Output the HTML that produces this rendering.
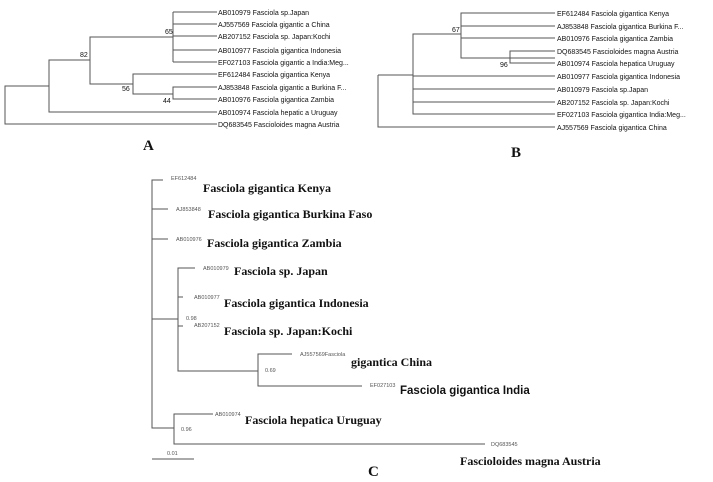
<!DOCTYPE html>
<html><head><style>
body{margin:0;background:#fff;}
svg{display:block}
.s{font-family:"Liberation Sans",sans-serif;font-size:7px;fill:#111}
.a{font-family:"Liberation Sans",sans-serif;font-size:5.5px;fill:#555}
.t{font-family:"Liberation Serif",serif;font-size:12px;font-weight:bold;fill:#111}
.L{font-family:"Liberation Serif",serif;font-size:15px;font-weight:bold;fill:#111}
line,polyline{stroke:#555;stroke-width:1;fill:none}
</style></head><body>
<svg width="713" height="482" xmlns="http://www.w3.org/2000/svg">
<!-- Panel A -->
<g>
<polyline points="173,12 173,62"/>
<line x1="173" y1="12" x2="217" y2="12"/><line x1="173" y1="24" x2="217" y2="24"/><line x1="173" y1="36" x2="217" y2="36"/><line x1="173" y1="50" x2="217" y2="50"/><line x1="173" y1="62" x2="217" y2="62"/>
<polyline points="173,37 90,37 90,84 133,84"/>
<polyline points="217,74 133,74 133,94 173,94"/>
<polyline points="217,87 173,87 173,99 217,99"/>
<polyline points="90,60 49,60 49,112 217,112"/>
<polyline points="49,86 5,86 5,124 217,124"/>
<text class="s" x="218" y="15">AB010979 Fasciola sp.Japan</text>
<text class="s" x="218" y="27">AJ557569 Fasciola gigantic a China</text>
<text class="s" x="218" y="39">AB207152 Fasciola sp. Japan:Kochi</text>
<text class="s" x="218" y="53">AB010977 Fasciola gigantica Indonesia</text>
<text class="s" x="218" y="65">EF027103 Fasciola gigantic a India:Meg...</text>
<text class="s" x="218" y="77">EF612484 Fasciola gigantica Kenya</text>
<text class="s" x="218" y="90">AJ853848 Fasciola gigantic a Burkina F...</text>
<text class="s" x="218" y="102">AB010976 Fasciola gigantica Zambia</text>
<text class="s" x="218" y="115">AB010974 Fasciola hepatic a Uruguay</text>
<text class="s" x="218" y="127">DQ683545 Fascioloides magna Austria</text>
<text class="s" x="165" y="34">65</text>
<text class="s" x="80" y="57">82</text>
<text class="s" x="122" y="91">56</text>
<text class="s" x="163" y="103">44</text>
<text class="L" x="143" y="150">A</text>
</g>
<!-- Panel B -->
<g>
<polyline points="555,13 461,13 461,58 555,58"/>
<line x1="461" y1="26" x2="555" y2="26"/><line x1="461" y1="38" x2="555" y2="38"/>
<polyline points="555,51 510,51 510,63 555,63"/>
<polyline points="461,34 413,34 413,114 555,114"/>
<line x1="413" y1="76" x2="555" y2="76"/><line x1="413" y1="89" x2="555" y2="89"/><line x1="413" y1="102" x2="555" y2="102"/>
<line x1="378" y1="75" x2="413" y2="75"/>
<polyline points="378,75 378,127 555,127"/>
<text class="s" x="557" y="16">EF612484 Fasciola gigantica Kenya</text>
<text class="s" x="557" y="29">AJ853848 Fasciola gigantica Burkina F...</text>
<text class="s" x="557" y="41">AB010976 Fasciola gigantica Zambia</text>
<text class="s" x="557" y="54">DQ683545 Fascioloides magna Austria</text>
<text class="s" x="557" y="66">AB010974 Fasciola hepatica Uruguay</text>
<text class="s" x="557" y="79">AB010977 Fasciola gigantica Indonesia</text>
<text class="s" x="557" y="92">AB010979 Fasciola sp.Japan</text>
<text class="s" x="557" y="105">AB207152 Fasciola sp. Japan:Kochi</text>
<text class="s" x="557" y="117">EF027103 Fasciola gigantica India:Meg...</text>
<text class="s" x="557" y="130">AJ557569 Fasciola gigantica China</text>
<text class="s" x="452" y="32">67</text>
<text class="s" x="500" y="67">96</text>
<text class="L" x="511" y="157">B</text>
</g>
<!-- Panel C -->
<g>
<polyline points="163,180 152,180 152,428 174,428"/>
<line x1="152" y1="209" x2="168" y2="209"/>
<line x1="152" y1="239" x2="168" y2="239"/>
<line x1="152" y1="319" x2="178" y2="319"/>
<polyline points="195,268 178,268 178,371 258,371"/>
<line x1="178" y1="297" x2="183" y2="297"/>
<line x1="178" y1="326" x2="183" y2="326"/>
<polyline points="292,354 258,354 258,386 362,386"/>
<polyline points="213,414 174,414 174,444 485,444"/>
<line x1="152" y1="459" x2="194" y2="459"/>
<text class="a" x="171" y="180">EF612484</text>
<text class="a" x="176" y="211">AJ853848</text>
<text class="a" x="176" y="241">AB010976</text>
<text class="a" x="203" y="270">AB010979</text>
<text class="a" x="194" y="299">AB010977</text>
<text class="a" x="194" y="327">AB207152</text>
<text class="a" x="300" y="356">AJ557569Fasciola</text>
<text class="a" x="370" y="387">EF027103</text>
<text class="a" x="215" y="416">AB010974</text>
<text class="a" x="491" y="446">DQ683545</text>
<text class="a" x="186" y="320">0.98</text>
<text class="a" x="265" y="372">0.69</text>
<text class="a" x="181" y="431">0.96</text>
<text class="a" x="167" y="455">0.01</text>
<text class="t" x="203" y="192">Fasciola gigantica Kenya</text>
<text class="t" x="208" y="218">Fasciola gigantica Burkina Faso</text>
<text class="t" x="207" y="247">Fasciola gigantica Zambia</text>
<text class="t" x="234" y="275">Fasciola sp. Japan</text>
<text class="t" x="224" y="307">Fasciola gigantica Indonesia</text>
<text class="t" x="224" y="335">Fasciola sp. Japan:Kochi</text>
<text class="t" x="351" y="366">gigantica China</text>
<text x="400" y="394" style="font-family:'Liberation Sans',sans-serif;font-size:11.5px;font-weight:bold;fill:#111">Fasciola gigantica India</text>
<text class="t" x="245" y="424">Fasciola hepatica Uruguay</text>
<text class="t" x="460" y="465">Fascioloides magna Austria</text>
<text class="L" x="368" y="476">C</text>
</g>
</svg>
</body></html>
